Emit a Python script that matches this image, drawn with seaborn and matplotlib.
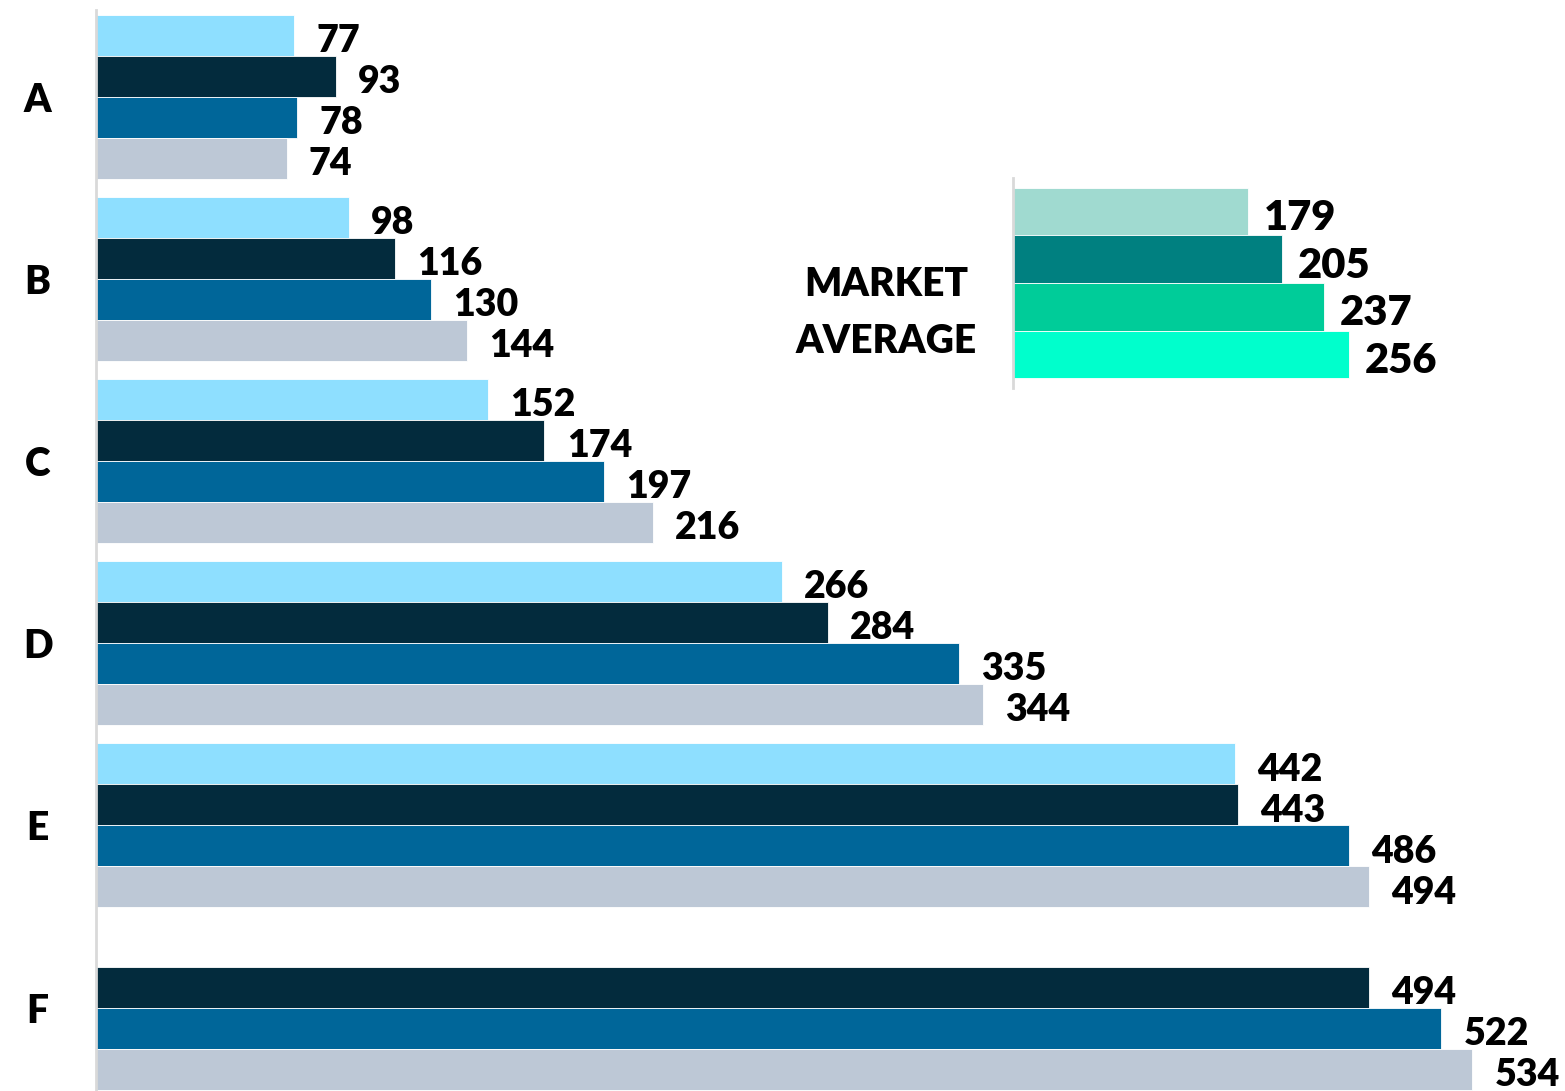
import numpy as np
import pandas as pd
import matplotlib
matplotlib.use('Agg')
import matplotlib.pyplot as plt
import seaborn as sns

categories = ['A', 'B', 'C', 'D', 'E', 'F']
series = ['S1', 'S2', 'S3', 'S4']
s1 = [77, 98, 152, 266, 442, np.nan]
s2 = [93, 116, 174, 284, 443, 494]
s3 = [78, 130, 197, 335, 486, 522]
s4 = [74, 144, 216, 344, 494, 534]
market_labels = ['M1', 'M2', 'M3', 'M4']
market_values = [179, 205, 237, 256]
main_colors = ['#8EDFFF', '#032B3D', '#006699', '#BDC8D6']
market_colors = ['#A0DAD0', '#008080', '#00CC99', '#00FFCC']

rows = []
for name, vals in zip(series, [s1, s2, s3, s4]):
    for c, v in zip(categories, vals):
        rows.append({'cat': c, 'series': name, 'value': v})
df = pd.DataFrame(rows)
mdf = pd.DataFrame({'label': market_labels, 'value': market_values})

sns.set_theme(style='white')
plt.rcParams['font.family'] = ['Lato', 'DejaVu Sans']
plt.rcParams['font.weight'] = 'bold'
WEIGHT = 'heavy'

W, H = 1565, 1091
fig = plt.figure(figsize=(W / 100, H / 100), dpi=100)

# main axes
ax = fig.add_axes([96 / W, 0, 1 - 96 / W, (H - 10) / H])
sns.barplot(data=df, y='cat', x='value', hue='series', order=categories,
            hue_order=series, palette=main_colors, orient='h', width=0.9,
            saturation=1, legend=False, ax=ax, edgecolor='white', linewidth=0.6)
ax.set_xlim(0, 570)
ax.set_ylim(5.458, -0.475)
for sp in ['top', 'right', 'bottom']:
    ax.spines[sp].set_visible(False)
ax.spines['left'].set_color('#D9D9D9')
ax.spines['left'].set_linewidth(2)
ax.set_xticks([])
ax.set_xlabel('')
ax.set_ylabel('')
ax.tick_params(axis='y', length=0, pad=42)
for t in ax.get_yticklabels():
    t.set_fontsize(28)
    t.set_fontweight(WEIGHT)
    t.set_ha('center')
    t.set_color('black')

for cont in ax.containers:
    for p in cont:
        w = p.get_width()
        if w is None or np.isnan(w):
            continue
        ax.annotate(f'{int(round(w))}', (w, p.get_y() + p.get_height() / 2),
                    xytext=(16, -2), textcoords='offset points',
                    ha='left', va='center_baseline', fontsize=27,
                    fontweight=WEIGHT, color='black')

# inset axes (market average)
ax2 = fig.add_axes([1013 / W, 1 - 388 / H, (W - 1013) / W, 210 / H])
sns.barplot(data=mdf, y='label', x='value', hue='label', order=market_labels,
            hue_order=market_labels, palette=market_colors, orient='h',
            width=1.0, dodge=False, saturation=1, legend=False, ax=ax2,
            edgecolor='white', linewidth=0.6)
ax2.set_xlim(0, 420)
ax2.set_ylim(3.5 + 0.21, -0.5 - 0.21)
ax2.patch.set_alpha(0)
for sp in ['top', 'right', 'bottom']:
    ax2.spines[sp].set_visible(False)
ax2.spines['left'].set_color('#D9D9D9')
ax2.spines['left'].set_linewidth(2)
ax2.set_xticks([])
ax2.set_yticks([])
ax2.set_xlabel('')
ax2.set_ylabel('')
for cont in ax2.containers:
    for p in cont:
        w = p.get_width()
        if w is None or np.isnan(w):
            continue
        ax2.annotate(f'{int(round(w))}', (w, p.get_y() + p.get_height() / 2),
                     xytext=(11, -2), textcoords='offset points',
                     ha='left', va='center_baseline', fontsize=30,
                     fontweight=WEIGHT, color='black')

fig.text(886 / W, 1 - 313 / H, 'MARKET\nAVERAGE', ha='center', va='center',
         fontsize=28, fontweight=WEIGHT, linespacing=1.65, color='black')

fig.savefig('out.png', dpi=100, facecolor='white')
